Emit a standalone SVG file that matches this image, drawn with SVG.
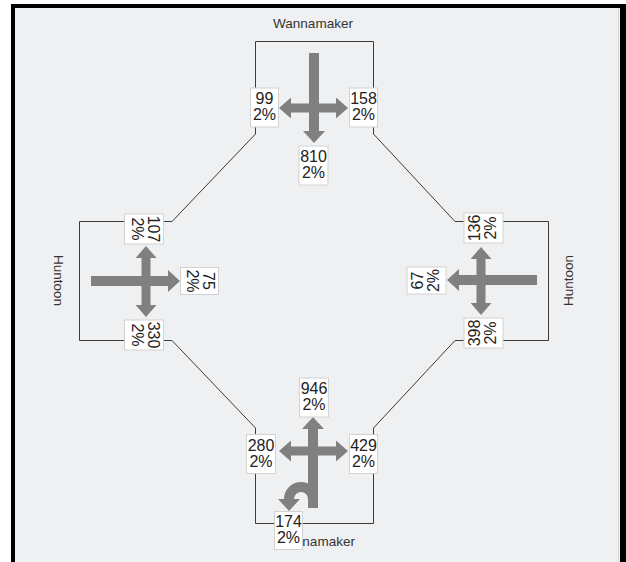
<svg xmlns="http://www.w3.org/2000/svg" width="626" height="562" viewBox="0 0 626 562">
  <defs>
    <marker id="ah" viewBox="0 0 12 22" refX="0" refY="11" markerWidth="12" markerHeight="22" markerUnits="userSpaceOnUse" orient="auto-start-reverse">
      <path d="M0,0 L12,11 L0,22 Z" fill="#808080"/>
    </marker>
    <marker id="ah2" viewBox="0 0 12 21" refX="0" refY="10.5" markerWidth="12" markerHeight="21" markerUnits="userSpaceOnUse" orient="auto-start-reverse">
      <path d="M0,0 L12,10.5 L0,21 Z" fill="#808080"/>
    </marker>
  </defs>
  <style>
    .road { fill: none; stroke: #3a3a3a; stroke-width: 1; }
    .arr { fill: none; stroke: #808080; stroke-width: 10; marker-end: url(#ah); }
    .dbl { fill: none; stroke: #808080; stroke-width: 9; marker-start: url(#ah2); marker-end: url(#ah2); }
    .lbl rect { fill: #ffffff; stroke: #d2d2d2; stroke-width: 1; }
    .lbl text { font-family: "Liberation Sans", Arial, sans-serif; font-size: 16px; fill: #222222; text-anchor: middle; }
    .street { font-family: "Liberation Sans", Arial, sans-serif; font-size: 13.5px; fill: #333333; text-anchor: middle; }
  </style>

  <!-- frame -->
  <rect x="0" y="0" width="626" height="562" fill="#ffffff"/>
  <rect x="15" y="8" width="605" height="554" fill="#eff0f2"/>
  <rect x="11" y="4" width="615" height="4" fill="#000000"/>
  <rect x="11" y="4" width="4" height="558" fill="#000000"/>
  <rect x="620" y="4" width="6" height="558" fill="#000000"/>
  <line x1="618.5" y1="8" x2="618.5" y2="562" stroke="#d8d8d8" stroke-width="1"/>

  <!-- street outline -->
  <g id="connectors">
    <path class="road" d="M255.5,41.5 L373.5,41.5 L373.5,134 L455,221.5 L548.5,221.5 L548.5,340.5 L455,340.5 L373.5,428 L373.5,523.5 L255.5,523.5 L255.5,428 L172,340.5 L79.5,340.5 L79.5,221.5 L172,221.5 L255.5,134 Z"/>
  </g>

  <!-- street names -->
  <text class="street" x="313" y="28">Wannamaker</text>
  <text class="street" x="315" y="546">Wannamaker</text>
  <text class="street" transform="translate(54,280.5) rotate(90)">Huntoon</text>
  <text class="street" transform="translate(573,280.5) rotate(-90)">Huntoon</text>

  <!-- north approach -->
  <g id="north">
    <line class="arr" x1="314" y1="53" x2="314" y2="131"/>
    <line class="dbl" x1="291" y1="108" x2="336" y2="108"/>
    <g class="lbl" transform="translate(264.5,107.5)">
      <rect x="-14" y="-19.5" width="28" height="39"/>
      <text y="-3.5">99</text><text y="12.5">2%</text>
    </g>
    <g class="lbl" transform="translate(363.5,107.5)">
      <rect x="-14" y="-19.5" width="28" height="39"/>
      <text y="-3.5">158</text><text y="12.5">2%</text>
    </g>
    <g class="lbl" transform="translate(313.5,165.5)">
      <rect x="-14.5" y="-19.5" width="29" height="39"/>
      <text y="-3.5">810</text><text y="12.5">2%</text>
    </g>
  </g>

  <!-- west approach -->
  <g id="west">
    <line class="arr" x1="91" y1="281" x2="168" y2="281"/>
    <line class="dbl" x1="146" y1="258" x2="146" y2="305"/>
    <g class="lbl" transform="translate(144,229) rotate(90)">
      <rect x="-15" y="-19.5" width="30" height="39"/>
      <text y="-3.5">107</text><text y="12.5">2%</text>
    </g>
    <g class="lbl" transform="translate(199.5,281) rotate(90)">
      <rect x="-13.5" y="-19" width="27" height="38"/>
      <text y="-3.5">75</text><text y="12.5">2%</text>
    </g>
    <g class="lbl" transform="translate(144,335) rotate(90)">
      <rect x="-15" y="-19.5" width="30" height="39"/>
      <text y="-3.5">330</text><text y="12.5">2%</text>
    </g>
  </g>

  <!-- east approach -->
  <g id="east">
    <line class="arr" x1="537" y1="280" x2="459" y2="280"/>
    <line class="dbl" x1="481" y1="259" x2="481" y2="303"/>
    <g class="lbl" transform="translate(483.5,228) rotate(-90)">
      <rect x="-15" y="-19.5" width="30" height="39"/>
      <text y="-3.5">136</text><text y="12.5">2%</text>
    </g>
    <g class="lbl" transform="translate(426.5,280.5) rotate(-90)">
      <rect x="-13.5" y="-19.5" width="27" height="39"/>
      <text y="-3.5">67</text><text y="12.5">2%</text>
    </g>
    <g class="lbl" transform="translate(483.5,333) rotate(-90)">
      <rect x="-15" y="-19.5" width="30" height="39"/>
      <text y="-3.5">398</text><text y="12.5">2%</text>
    </g>
  </g>

  <!-- south approach -->
  <g id="south">
    <line class="arr" x1="313" y1="508" x2="313" y2="429"/>
    <line class="dbl" x1="291" y1="451" x2="336" y2="451"/>
    <path class="arr" d="M313,505 L313,499 A12,12 0 0 0 289,499"/>
    <g class="lbl" transform="translate(314,397.5)">
      <rect x="-14.5" y="-19.5" width="29" height="39"/>
      <text y="-3.5">946</text><text y="12.5">2%</text>
    </g>
    <g class="lbl" transform="translate(261,454)">
      <rect x="-14.5" y="-19.5" width="29" height="39"/>
      <text y="-3.5">280</text><text y="12.5">2%</text>
    </g>
    <g class="lbl" transform="translate(363.5,454)">
      <rect x="-14" y="-19.5" width="28" height="39"/>
      <text y="-3.5">429</text><text y="12.5">2%</text>
    </g>
    <g class="lbl" transform="translate(288.5,530.5)">
      <rect x="-14" y="-19" width="28" height="38"/>
      <text y="-3.5">174</text><text y="12.5">2%</text>
    </g>
  </g>
</svg>
